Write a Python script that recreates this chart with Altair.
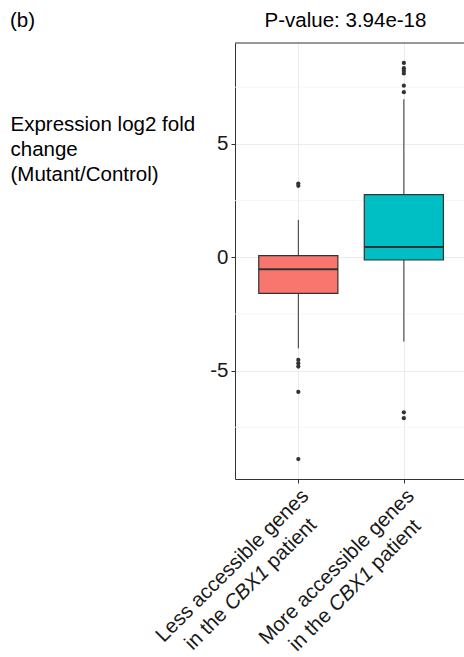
import altair as alt
import pandas as pd

# ---------------- data ----------------
groups = ["Less accessible genes in the CBX1 patient",
          "More accessible genes in the CBX1 patient"]
line1 = ["Less accessible genes", "More accessible genes"]
line2 = ["in the", "CBX1", "patient"]
box_colors = ["#F8766D", "#00BFC4"]
q1 = [-1.59, -0.12]
median = [-0.53, 0.45]
q3 = [0.07, 2.76]
whisker_low = [-4.02, -3.72]
whisker_high = [1.65, 6.97]
outliers_less = [3.25, 3.15, -4.53, -4.68, -4.82, -5.94, -8.90]
outliers_more = [8.57, 8.34, 8.23, 8.11, 7.57, 7.28, -6.84, -7.10]
y_major = [-5, 0, 5]
y_minor = [-7.5, -2.5, 2.5, 7.5]
pvalue_text = "P-value: 3.94e-18"
panel_tag = "(b)"
y_title = ["Expression log2 fold", "change", "(Mutant/Control)"]

# ---------------- layout / style ----------------
FONT = "Liberation Sans"
FS = 20.5
W, H = 229, 436
PAD_L, PAD_T = 235, 43
DARK = "#333333"

# Arial / Liberation Sans advance widths (per 1000 em) for label layout
ADV = {"L": 556, "e": 556, "s": 500, " ": 278, "a": 556, "c": 500, "i": 222,
       "b": 556, "l": 222, "g": 556, "n": 556, "M": 833, "o": 556, "r": 333,
       "t": 278, "h": 556, "C": 722, "B": 667, "X": 667, "1": 556, "p": 556}


def tw(s):
    return sum(ADV.get(ch, 556) for ch in s) * FS / 1000.0


box_df = pd.DataFrame({
    "group": groups,
    "pos": [i + 1 for i in range(len(groups))],
    "q1": q1, "median": median, "q3": q3,
    "wlo": whisker_low, "whi": whisker_high,
})
box_df["lo"] = box_df["pos"] - 0.375
box_df["hi"] = box_df["pos"] + 0.375

out_df = pd.DataFrame({
    "pos": [1] * len(outliers_less) + [2] * len(outliers_more),
    "v": outliers_less + outliers_more,
})
minor_df = pd.DataFrame({"v": y_minor})

xs = alt.Scale(domain=[0.4, 2.57], nice=False, zero=False)
ys = alt.Scale(domain=[-9.78, 9.45], nice=False, zero=False)

x_axis = alt.Axis(values=[1, 2], labels=False, grid=True, gridColor="#EBEBEB",
                  gridWidth=1, ticks=True, tickColor=DARK, tickSize=4,
                  domain=True, domainColor=DARK, domainWidth=1, title=None)
y_axis = alt.Axis(values=y_major, grid=True, gridColor="#EBEBEB", gridWidth=1,
                  ticks=True, tickColor=DARK, tickSize=4, labelPadding=3,
                  labelFont=FONT, labelFontSize=FS, labelColor="#1a1a1a",
                  labelExpr="'' + datum.value",
                  domain=True, domainColor=DARK, domainWidth=1,
                  title=y_title, titleAngle=0, titleAlign="left",
                  titleBaseline="alphabetic", titleX=-225, titleY=87,
                  titleFont=FONT, titleFontSize=FS, titleFontWeight="normal",
                  titleColor="#000000", titleLineHeight=25)

X = alt.X("pos:Q", scale=xs, axis=x_axis)

minor = alt.Chart(minor_df).mark_rule(color="#F4F4F4", strokeWidth=0.8).encode(
    y=alt.Y("v:Q", scale=ys, axis=y_axis))

base = alt.Chart(box_df)
whisk_hi = base.mark_rule(color=DARK, strokeWidth=1).encode(
    x=X, y=alt.Y("q3:Q", scale=ys, axis=y_axis), y2="whi:Q")
whisk_lo = base.mark_rule(color=DARK, strokeWidth=1).encode(
    x=X, y=alt.Y("wlo:Q", scale=ys, axis=y_axis), y2="q1:Q")
boxes = base.mark_rect(stroke=DARK, strokeWidth=1.2).encode(
    x=alt.X("lo:Q", scale=xs, axis=x_axis), x2="hi:Q",
    y=alt.Y("q1:Q", scale=ys, axis=y_axis), y2="q3:Q",
    fill=alt.Fill("group:N", scale=alt.Scale(domain=groups, range=box_colors),
                  legend=None))
med = base.mark_rule(color=DARK, strokeWidth=2).encode(
    x=alt.X("lo:Q", scale=xs, axis=x_axis), x2="hi:Q",
    y=alt.Y("median:Q", scale=ys, axis=y_axis))
pts = alt.Chart(out_df).mark_circle(color=DARK, opacity=1, size=18).encode(
    x=X, y=alt.Y("v:Q", scale=ys, axis=y_axis))

one = pd.DataFrame({"t": [panel_tag], "p": [pvalue_text]})
top_border = alt.Chart(one).mark_rule(color=DARK, strokeWidth=1).encode(
    x=alt.value(0), x2=alt.value(W), y=alt.value(0))
tag = alt.Chart(one).mark_text(align="left", baseline="alphabetic", font=FONT,
                               fontSize=FS, color="#000000").encode(
    text="t:N", x=alt.value(-225), y=alt.value(-16))
ptitle = alt.Chart(one).mark_text(align="center", baseline="alphabetic",
                                  font=FONT, fontSize=FS,
                                  color="#000000").encode(
    text="p:N", x=alt.value(W / 2 - 4), y=alt.value(-16))

# rotated two-line category labels (second line centred, CBX1 in italics)
label_layers = []
GAP = 26
for i in range(len(groups)):
    w1 = tw(line1[i])
    w_a = tw(line2[0] + " ")
    w_b = tw(line2[1])
    w_sp = tw(" ")
    w2 = w_a + w_b + tw(" " + line2[2])
    start = -w1 / 2 - w2 / 2
    row = pd.DataFrame({"pos": [i + 1], "l1": [line1[i]], "a": [line2[0]],
                        "b": [line2[1]], "c": [line2[2]]})
    c = alt.Chart(row)
    common = dict(angle=315, baseline="top", font=FONT, fontSize=FS,
                  color="#1a1a1a")
    label_layers.append(c.mark_text(align="right", dx=0, dy=0, **common).encode(
        x=X, y=alt.value(H + 7), text="l1:N"))
    label_layers.append(c.mark_text(align="left", dx=start, dy=GAP, **common).encode(
        x=X, y=alt.value(H + 7), text="a:N"))
    label_layers.append(c.mark_text(align="left", dx=start + w_a, dy=GAP,
                                    fontStyle="italic", **common).encode(
        x=X, y=alt.value(H + 7), text="b:N"))
    label_layers.append(c.mark_text(align="left", dx=start + w_a + w_b + w_sp,
                                    dy=GAP, **common).encode(
        x=X, y=alt.value(H + 7), text="c:N"))

chart = alt.layer(minor, whisk_hi, whisk_lo, boxes, med, pts, top_border, tag,
                  ptitle, *label_layers).properties(
    width=W, height=H,
    autosize=alt.AutoSizeParams(type="none"),
    padding={"left": PAD_L, "top": PAD_T, "right": 0, "bottom": 657 - PAD_T - H},
    background="white",
).configure_view(stroke=None)

chart.save("out.html", embed_options={"renderer": "svg", "actions": False})
